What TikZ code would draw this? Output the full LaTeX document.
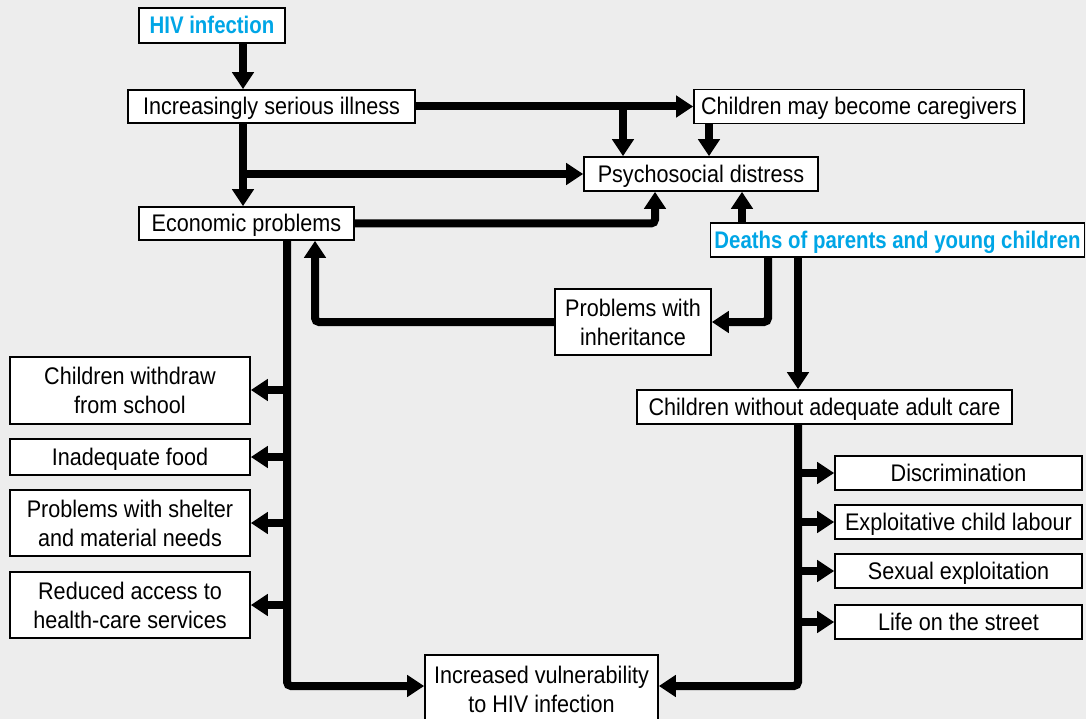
\documentclass[tikz,border=0pt]{standalone}
\usepackage{fontspec}
\setmainfont[FakeStretch=0.9,BoldFeatures={FakeStretch=0.85}]{Liberation Sans}
\usepackage{tikz}
\usetikzlibrary{arrows.meta}
\usetikzlibrary{positioning}
\definecolor{bggray}{HTML}{EDEDED}
\definecolor{hivblue}{HTML}{00A6E6}

\begin{document}
\begin{tikzpicture}[x=1pt,y=-1pt,
    box/.style={draw,fill=white,line width=1.6pt,inner sep=0pt,align=center,
                font=\fontsize{24}{29}\selectfont},
    onebox/.style={box,text height=22pt,text depth=5pt},
    keybox/.style={onebox,text=hivblue,font=\fontsize{24}{29}\selectfont\bfseries},
    arr/.style={line width=8pt,rounded corners=4pt,-{Triangle[width=21pt,length=17pt]}}]
    \fill[bggray] (0,0) rectangle (1086,719);
    \useasboundingbox (0,0) rectangle (1086,719);

    % Place nodes
    \node [keybox,minimum width=146pt,minimum height=35pt] (hiv) at (212,25.5) {HIV infection};
    \node [onebox,minimum width=287pt,minimum height=33pt] (ill) at (271.5,106.5) {Increasingly serious illness};
    \node [onebox,minimum width=330pt,minimum height=34pt] (care) at (859,106.5) {Children may become caregivers};
    \node [onebox,minimum width=234pt,minimum height=34pt] (psy) at (701,174) {Psychosocial distress};
    \node [onebox,minimum width=215pt,minimum height=33pt] (eco) at (246.5,223.5) {Economic problems};
    \node [keybox,minimum width=374pt,minimum height=34pt] (death) at (897.5,240) {Deaths of parents and young children};
    \node [box,minimum width=156pt,minimum height=66pt] (inh) at (633,322) {Problems with\\inheritance};
    \node [onebox,minimum width=375pt,minimum height=34pt] (adult) at (824.5,407) {Children without adequate adult care};

    \node [box,minimum width=240pt,minimum height=67pt] (school) at (130,390.5) {Children withdraw\\from school};
    \node [onebox,minimum width=240pt,minimum height=36pt] (food) at (130,457) {Inadequate food};
    \node [box,minimum width=240pt,minimum height=66pt] (shelter) at (130,523) {Problems with shelter\\and material needs};
    \node [box,minimum width=240pt,minimum height=66pt] (health) at (130,605) {Reduced access to\\health-care services};

    \node [onebox,minimum width=247pt,minimum height=34pt] (disc) at (958.5,473) {Discrimination};
    \node [onebox,minimum width=247pt,minimum height=34pt] (labour) at (958.5,522) {Exploitative child labour};
    \node [onebox,minimum width=247pt,minimum height=34pt] (sexex) at (958.5,571) {Sexual exploitation};
    \node [onebox,minimum width=247pt,minimum height=34pt] (street) at (958.5,622) {Life on the street};

    \node [box,minimum width=233pt,minimum height=68pt] (vul) at (541.5,689) {Increased vulnerability\\to HIV infection};

    % Place coordinates for the trunks
    \coordinate (ia) at (243,174);
    \coordinate (ib) at (623,106.5);
    \coordinate (ic) at (709,0);
    \coordinate (id) at (655,0);
    \coordinate (ie) at (742,0);
    \coordinate (if) at (768,0);
    \coordinate (ig) at (315,0);
    \coordinate (ih) at (798,0);
    \coordinate (ii) at (287,0);
    \coordinate (jj) at (0,686);

    % Draw arrows
    \draw [arr] (hiv.south -| ia) -- (ill.north -| ia);
    \draw [arr] (ill.south -| ia) -- (eco.north -| ia);
    \draw [arr] (ia) -- (psy.west);
    \draw [arr] (ill.east) -- (care.west);
    \draw [arr] (ib) -- (psy.north -| ib);
    \draw [arr] (care.south -| ic) -- (psy.north -| ic);
    \draw [arr] (eco.east) -| (psy.south -| id);
    \draw [arr] (death.north -| ie) -- (psy.south -| ie);
    \draw [arr] (death.south -| if) |- (inh.east);
    \draw [arr] (inh.west) -| (eco.south -| ig);
    \draw [arr] (death.south -| ih) -- (adult.north -| ih);

    \draw [arr] (eco.south -| ii) |- (vul.west |- jj);
    \foreach \n/\yy in {school/390,food/457,shelter/523,health/605}
        \draw [arr] (ii |- 0,\yy) -- (\n.east |- 0,\yy);

    \draw [arr] (adult.south -| ih) |- (vul.east |- jj);
    \foreach \n in {disc,labour,sexex,street}
        \draw [arr] (ih |- \n) -- (\n.west);

\end{tikzpicture}
\end{document}
